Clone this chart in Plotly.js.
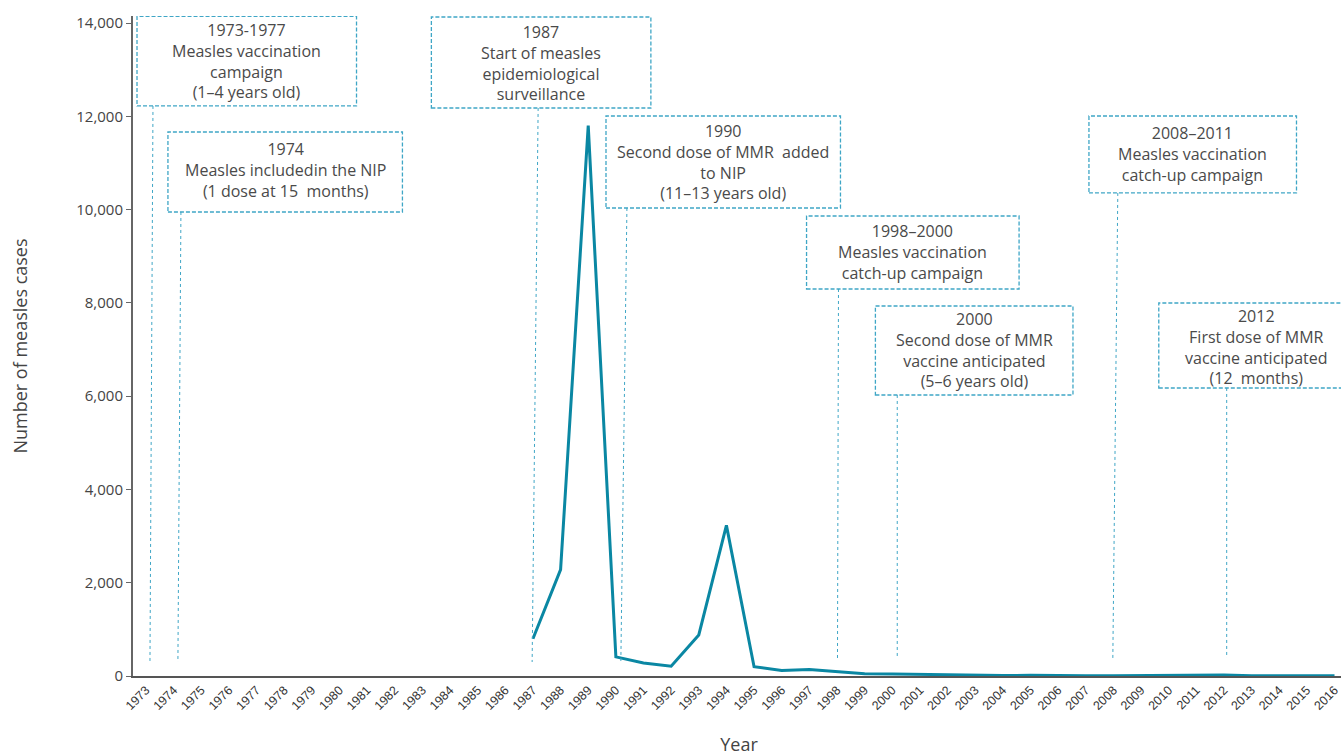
<!DOCTYPE html>
<html>
<head>
<meta charset="utf-8">
<script src="https://cdn.plot.ly/plotly-3.0.1.min.js"></script>
<style>html,body{margin:0;padding:0;background:#fff;overflow:hidden;}#chart{width:1345px;height:756px;}</style>
</head>
<body>
<div id="chart"></div>
<script>
// ---- Data ----
const years = [1987,1988,1989,1990,1991,1992,1993,1994,1995,1996,1997,1998,1999,2000,2001,2002,2003,2004,2005,2006,2007,2008,2009,2010,2011,2012,2013,2014,2015,2016];
const cases = [800,2280,11800,410,280,210,880,3230,200,120,140,100,50,45,35,20,15,10,15,5,5,5,10,5,10,20,5,5,10,5];
const tickYears = [];
for (let y = 1973; y <= 2016; y++) tickYears.push(y);
const tickLabels = tickYears.map(String);
const yTicks = [0,2000,4000,6000,8000,10000,12000,14000];
const yTickLabels = ['0','2,000','4,000','6,000','8,000','10,000','12,000','14,000'];

// ---- Annotation texts ----
const noteTexts = [
  '1973-1977<br>Measles vaccination<br>campaign<br>(1–4 years old)',
  '1974<br>Measles includedin the NIP<br>(1 dose at 15  months)',
  '1987<br>Start of measles<br>epidemiological<br>surveillance',
  '1990<br>Second dose of MMR  added<br>to NIP<br>(11–13 years old)',
  '1998–2000<br>Measles vaccination<br>catch-up campaign',
  '2000<br>Second dose of MMR<br>vaccine anticipated<br>(5–6 years old)',
  '2008–2011<br>Measles vaccination<br>catch-up campaign',
  '2012<br>First dose of MMR<br>vaccine anticipated<br>(12  months)'
];
// layout geometry of the notes (box corners, text centre, leader line)
const boxes = [
  [1972.675,12221,1980.617,14140],
  [1973.794,9948,1982.278,11663],
  [1983.325,12178,1991.267,14129],
  [1989.643,10034,1998.126,12006],
  [1996.899,8297,2004.588,9862],
  [1999.39,6025,2006.538,7933],
  [2007.116,10356,2014.625,12006],
  [2009.643,6175,2016.6,7997]
];
const textPos = [
  [1976.646,13186],[1978.036,10849],[1987.296,13143],[1993.884,11020],
  [2000.74,9091],[2002.96,6989],[2010.87,11192],[2013.18,7054]
];
const leaders = [
  [1973.253,12221,1973.144,300],
  [1974.264,9948,1974.155,300],
  [1987.188,12178,1986.971,300],
  [1990.40,10034,1990.18,300],
  [1998.054,8297,1998.018,343],
  [2000.18,6025,2000.18,386],
  [2008.16,10356,2007.98,386],
  [2012.1,6175,2012.1,386]
];

const noteColor = '#3fa6c6';
const shapes = [];
boxes.forEach(b => shapes.push({type:'rect', xref:'x', yref:'y', x0:b[0], y0:b[1], x1:b[2], y1:b[3],
  line:{color:noteColor, width:1.3, dash:'4px,2px'}, fillcolor:'rgba(0,0,0,0)'}));
leaders.forEach(l => shapes.push({type:'line', xref:'x', yref:'y', x0:l[0], y0:l[1], x1:l[2], y1:l[3],
  line:{color:noteColor, width:1, dash:'dot'}}));

const annotations = noteTexts.map((t,i) => ({
  text:t, x:textPos[i][0], y:textPos[i][1], xref:'x', yref:'y', showarrow:false,
  xanchor:'center', yanchor:'middle', align:'center',
  font:{family:'Open Sans, sans-serif', size:16, color:'#4a4a4a'}
}));

const trace = {
  x: years, y: cases, type:'scatter', mode:'lines',
  line:{color:'#0a87a3', width:3}, hoverinfo:'x+y'
};

const layout = {
  width:1345, height:756,
  margin:{l:133, r:0, t:16, b:80},
  paper_bgcolor:'#ffffff', plot_bgcolor:'#ffffff',
  showlegend:false,
  xaxis:{
    range:[1972.53,2016.38], tickmode:'array', tickvals:tickYears, ticktext:tickLabels,
    tickangle:-45, showgrid:false, zeroline:false, showline:true, linecolor:'#555', linewidth:2,
    ticks:'', tickfont:{family:'Liberation Sans, Arial, sans-serif', size:12.5, color:'#333'},
    title:{text:'Year', font:{family:'Open Sans, sans-serif', size:18, color:'#444'}, standoff:26}
  },
  yaxis:{
    range:[0,14150], tickmode:'array', tickvals:yTicks, ticktext:yTickLabels,
    showgrid:false, zeroline:false, showline:true, linecolor:'#666', linewidth:2,
    ticks:'outside', ticklen:5, tickcolor:'#666', tickwidth:1,
    tickfont:{family:'Open Sans, sans-serif', size:15, color:'#444'},
    title:{text:'Number of measles cases', font:{family:'Open Sans, sans-serif', size:18, color:'#444'}, standoff:44}
  },
  shapes: shapes,
  annotations: annotations
};

Plotly.newPlot('chart', [trace], layout, {displayModeBar:false, staticPlot:true});
</script>
</body>
</html>
